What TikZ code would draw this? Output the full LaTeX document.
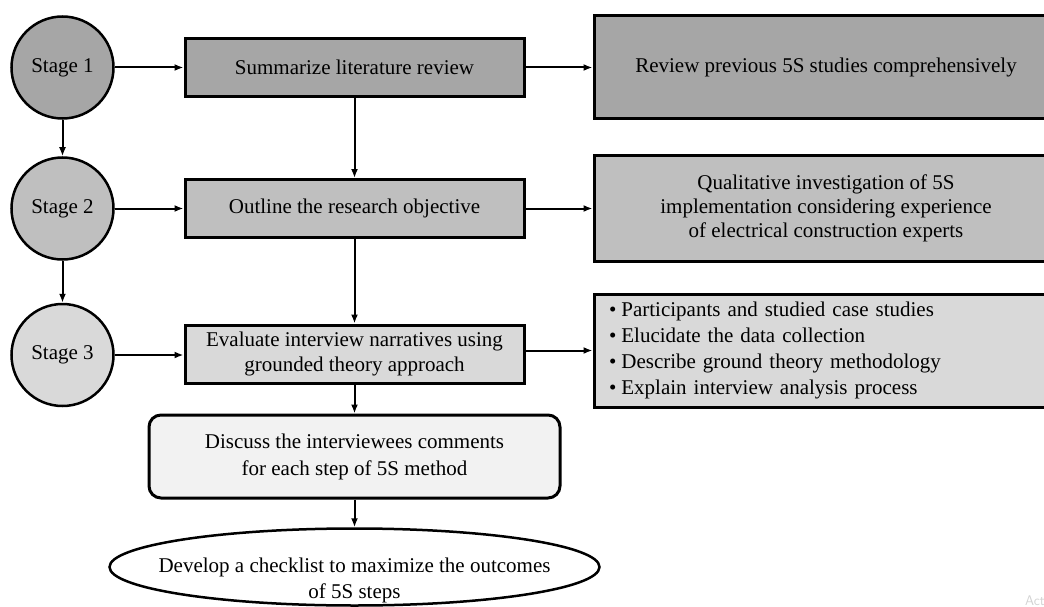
\documentclass[tikz,border=0pt]{standalone}
\usepackage{fontspec}
\setmainfont{Liberation Serif}
\usetikzlibrary{arrows.meta,shapes.geometric}
\definecolor{gA}{HTML}{A6A6A6}
\definecolor{gB}{HTML}{BFBFBF}
\definecolor{gC}{HTML}{D9D9D9}
\definecolor{gD}{HTML}{F2F2F2}
\begin{document}
\begin{tikzpicture}[x=1pt,y=-1pt,
  font=\fontsize{21}{25}\selectfont,
  arr/.style={line width=2pt,-{Latex[length=9pt,width=7pt]}},
  stagec/.style={circle,draw,line width=2.5pt,minimum size=102pt,inner sep=0pt},
  boxa/.style={draw,line width=3pt,rectangle,inner sep=0pt,align=center},
]
\useasboundingbox (0,0) rectangle (1044,607);

\node[stagec,fill=gA] (s1) at (62.5,67.5) {Stage 1};
\node[stagec,fill=gB] (s2) at (62.5,208.5) {Stage 2};
\node[stagec,fill=gC] (s3) at (62.5,355) {Stage 3};

\node[boxa,fill=gA,minimum width=339pt,minimum height=58pt] (sum) at (354.5,67.5) {Summarize literature review};
\node[boxa,fill=gB,minimum width=339pt,minimum height=58pt] (out) at (354.5,208.5) {Outline the research objective};
\node[boxa,fill=gC,minimum width=339pt,minimum height=58pt] (eva) at (354.5,354) {Evaluate interview narratives using\\grounded theory approach};

\node[boxa,fill=gA,minimum width=464pt,minimum height=103pt] (rev) at (826,67.5) {Review previous 5S studies comprehensively};
\node[boxa,fill=gB,minimum width=464pt,minimum height=105pt,font=\fontsize{21}{24}\selectfont] (qual) at (826,208.5) {Qualitative investigation of 5S\\implementation considering experience\\of electrical construction experts};
\node[boxa,fill=gC,text width=434pt,inner xsep=15pt,align=left,minimum height=113pt,font=\fontsize{21}{26}\selectfont] (bul) at (826,350.5) {\textbullet\hspace{5pt}Participants and studied case studies\\\textbullet\hspace{5pt}Elucidate the data collection\\\textbullet\hspace{5pt}Describe ground theory methodology\\\textbullet\hspace{5pt}Explain interview analysis process};

\node[draw,line width=3pt,rounded corners=12pt,fill=gD,minimum width=411pt,minimum height=83pt,align=center,inner sep=0pt,font=\fontsize{21}{27}\selectfont] (dis) at (354.5,456.5) {Discuss the interviewees comments\\for each step of 5S method};

\node[ellipse,draw,line width=2.5pt,fill=white,minimum width=490pt,minimum height=77pt,inner sep=0pt] (dev) at (354.5,567) {};
\node[align=center,inner sep=0pt,font=\fontsize{21}{26}\selectfont] (devt) at (354.5,580) {Develop a checklist to maximize the outcomes\\of 5S steps};

\draw[arr] (s1) -- (s2);
\draw[arr] (s2) -- (s3);
\draw[arr] (s1) -- (sum);
\draw[arr] (s2) -- (out);
\draw[arr] (s3.east) -- (s3.east -| eva.west);
\draw[arr] (sum) -- (rev);
\draw[arr] (out) -- (qual);
\draw[arr] (eva.east |- bul.west) -- (bul.west);
\draw[arr] (sum) -- (out);
\draw[arr] (out) -- (eva);
\draw[arr] (eva) -- (dis);
\draw[arr] (dis) -- (dev);

\node[anchor=west,text=gray!35,font=\fontsize{14}{16}\selectfont\sffamily,inner sep=0pt] (wm) at (1025,601) {Act};
\end{tikzpicture}
\end{document}
